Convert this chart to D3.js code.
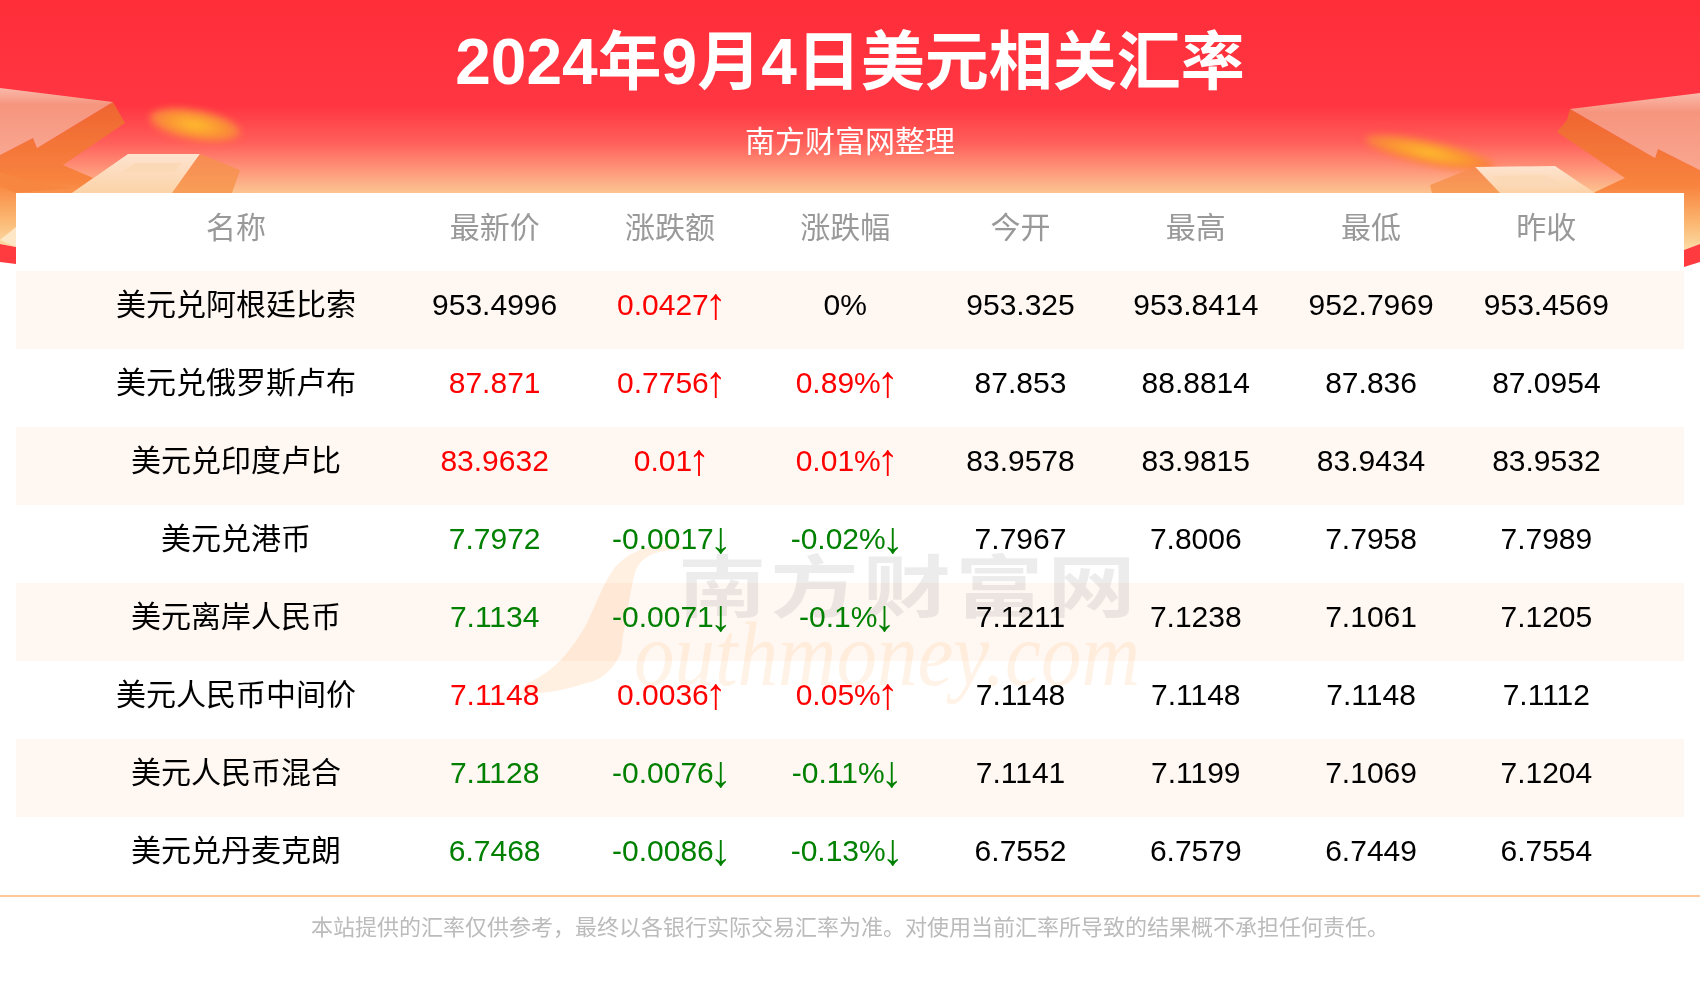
<!DOCTYPE html>
<html>
<head>
<meta charset="utf-8">
<script src="https://cdn.jsdelivr.net/npm/d3@7"></script>
<style>
html, body { margin: 0; padding: 0; background: #fff; }
svg { display: block; }
text { font-family: "Liberation Sans", "Noto Sans CJK SC", sans-serif; }
</style>
</head>
<body>
<div id="chart"></div>
<script>
var titleText = "2024年9月4日美元相关汇率";
var subtitleText = "南方财富网整理";
var footerText = "本站提供的汇率仅供参考，最终以各银行实际交易汇率为准。对使用当前汇率所导致的结果概不承担任何责任。";

var headers = ["名称", "最新价", "涨跌额", "涨跌幅", "今开", "最高", "最低", "昨收"];
var names = ["美元兑阿根廷比索", "美元兑俄罗斯卢布", "美元兑印度卢比", "美元兑港币", "美元离岸人民币", "美元人民币中间价", "美元人民币混合", "美元兑丹麦克朗"];
var latest = ["953.4996", "87.871", "83.9632", "7.7972", "7.1134", "7.1148", "7.1128", "6.7468"];
var latestTrend = [0, 1, 1, -1, -1, 1, -1, -1];
var change = ["0.0427", "0.7756", "0.01", "-0.0017", "-0.0071", "0.0036", "-0.0076", "-0.0086"];
var changePct = ["0%", "0.89%", "0.01%", "-0.02%", "-0.1%", "0.05%", "-0.11%", "-0.13%"];
var open = ["953.325", "87.853", "83.9578", "7.7967", "7.1211", "7.1148", "7.1141", "6.7552"];
var high = ["953.8414", "88.8814", "83.9815", "7.8006", "7.1238", "7.1148", "7.1199", "6.7579"];
var low = ["952.7969", "87.836", "83.9434", "7.7958", "7.1061", "7.1148", "7.1069", "6.7449"];
var prevClose = ["953.4569", "87.0954", "83.9532", "7.7989", "7.1205", "7.1112", "7.1204", "6.7554"];

var width = 1700, height = 1000;
var cardLeft = 16, cardRight = 1684, cardTop = 193, rowsTop = 271, rowsBottom = 895;
var red = "#ff0000", green = "#008000";

var svg = d3.select("#chart").append("svg").attr("width", width).attr("height", height);
var defs = svg.append("defs");

function gradient(id, stops, x2, y2) {
    var g = defs.append("linearGradient").attr("id", id)
        .attr("x1", 0).attr("y1", 0).attr("x2", x2).attr("y2", y2);
    stops.forEach(function(s) {
        g.append("stop").attr("offset", s[0]).attr("stop-color", s[1]);
    });
}
gradient("bg", [[0, "#ff2e39"], [0.55, "#ff3642"], [0.74, "#ff5f5a"], [0.89, "#fe9a7c"], [1, "#fcc490"]], 0, 1);
gradient("face", [[0, "#f9b9aa"], [0.25, "#f6957e"], [1, "#f9a690"]], 0, 1);
gradient("body", [[0, "#ee6430"], [0.55, "#f8843f"], [0.8, "#fbb56f"], [1, "#fbdca6"]], 0, 1);
gradient("paper", [[0, "#fde3cf"], [1, "#fcd3a8"]], 0, 1);
gradient("side", [[0, "#f78a52"], [1, "#f89e58"]], 0, 1);

var blur = defs.append("filter").attr("id", "soft").attr("x", "-30%").attr("y", "-60%").attr("width", "160%").attr("height", "220%");
blur.append("feGaussianBlur").attr("stdDeviation", 3.5);
var soft = defs.append("filter").attr("id", "edge");
soft.append("feGaussianBlur").attr("stdDeviation", 0.7);

var leaf = defs.append("radialGradient").attr("id", "leaf");
leaf.append("stop").attr("offset", 0).attr("stop-color", "#ffc02c");
leaf.append("stop").attr("offset", 0.65).attr("stop-color", "#fb9334");
leaf.append("stop").attr("offset", 1).attr("stop-color", "#fb7a45");

// header background
svg.append("rect").attr("width", width).attr("height", cardTop).attr("fill", "url(#bg)");

var leaves = svg.append("g").attr("filter", "url(#soft)").attr("fill", "url(#leaf)");
leaves.append("ellipse").attr("transform", "translate(195,125) rotate(10)").attr("rx", 46).attr("ry", 15);
leaves.append("ellipse").attr("transform", "translate(1430,153) rotate(12)").attr("rx", 66).attr("ry", 12);

var line = d3.line();
var art = svg.append("g").attr("filter", "url(#edge)");
function poly(points, fill) {
    art.append("path").attr("d", line(points) + "Z").attr("fill", fill);
}

// left side art
poly([[113, 102], [125, 123], [63, 165], [93, 178], [72, 193], [16, 193], [16, 247], [0, 244], [0, 155], [33, 138], [37, 148]], "url(#body)");
poly([[0, 88], [113, 102], [37, 148], [33, 138], [0, 155]], "url(#face)");
poly([[0, 172], [40, 184], [70, 188], [16, 193], [0, 186]], "#f7863f");
poly([[0, 240], [16, 227], [16, 247]], "#fde7c6");
poly([[0, 244], [16, 247], [16, 264], [0, 262]], "#ff3a40");
poly([[128, 154], [200, 154], [172, 193], [72, 193]], "url(#paper)");
poly([[200, 154], [240, 170], [232, 193], [172, 193]], "url(#side)");
poly([[135, 163], [182, 163], [174, 172], [122, 172]], "#fcd9b6");

// right side art
poly([[1570, 109], [1655, 158], [1658, 149], [1700, 170], [1700, 244], [1684, 250], [1684, 193], [1593, 193], [1625, 178], [1557, 132], [1567, 120]], "url(#body)");
poly([[1570, 109], [1700, 93], [1700, 170], [1658, 149], [1655, 158]], "url(#face)");
poly([[1684, 250], [1700, 244], [1700, 262], [1684, 267]], "#ff3a40");
poly([[1475, 167], [1555, 166], [1595, 193], [1500, 193]], "url(#paper)");
poly([[1475, 167], [1430, 185], [1432, 193], [1500, 193]], "url(#side)");
poly([[1492, 176], [1545, 175], [1570, 187], [1505, 187]], "#fcd9b6");

// card and row stripes
var r = 12;
svg.append("path")
    .attr("fill", "#fff")
    .attr("d", "M" + cardLeft + "," + rowsBottom + "V" + (cardTop + r) + "A" + r + "," + r + " 0 0 1 " + (cardLeft + r) + "," + cardTop +
        "H" + (cardRight - r) + "A" + r + "," + r + " 0 0 1 " + cardRight + "," + (cardTop + r) + "V" + rowsBottom + "Z");

var y = d3.scaleBand().domain(names).range([rowsTop, rowsBottom]);
var x = d3.scaleBand().domain(headers.slice(1)).range([407, 1634]);
var nameX = 236;

function colX(h) {
    return h === headers[0] ? nameX : x(h) + x.bandwidth() / 2;
}

svg.append("g").selectAll("rect")
    .data(names.filter(function(d, i) { return i % 2 === 0; }))
    .enter().append("rect")
    .attr("x", cardLeft)
    .attr("width", cardRight - cardLeft)
    .attr("y", function(d) { return y(d); })
    .attr("height", y.bandwidth())
    .attr("fill", "#fff7f2");

// watermark
var mark = svg.append("g");
mark.append("path")
    .attr("fill", "#ffb469").attr("opacity", 0.2)
    .attr("d", "M686,550C660,548 640,555 635,573C630,590 628,612 624,630C622,640 622,648 621,653C612,672 600,680 587,683C570,688 555,692 540,693L520,695C522,690 524,686 528,683C545,675 558,664 567,653C577,640 582,632 587,623C596,604 604,582 615,567C630,550 655,542 678,545Z");
mark.append("text")
    .attr("x", 634).attr("y", 685)
    .attr("textLength", 506).attr("lengthAdjust", "spacingAndGlyphs")
    .attr("font-size", 92).attr("font-style", "italic")
    .attr("fill", "#ffb469").attr("opacity", 0.16)
    .style("font-family", "'Liberation Serif', serif")
    .text("outhmoney.com");
mark.append("text")
    .attr("transform", "translate(678,612) scale(1.3,1)")
    .attr("font-size", 68).attr("font-weight", 700).attr("letter-spacing", 3)
    .attr("fill", "#000").attr("opacity", 0.07)
    .text("南方财富网");

// title
svg.append("text").attr("x", 850).attr("y", 84).attr("text-anchor", "middle")
    .attr("font-size", 64).attr("font-weight", 700).attr("fill", "#fff").text(titleText);
svg.append("text").attr("x", 850).attr("y", 152).attr("text-anchor", "middle")
    .attr("font-size", 30).attr("fill", "#fff").text(subtitleText);

// table header
svg.append("g").selectAll("text")
    .data(headers)
    .enter().append("text")
    .attr("x", colX)
    .attr("y", 238)
    .attr("text-anchor", "middle")
    .attr("font-size", 30)
    .attr("fill", "#999")
    .text(function(d) { return d; });

function trend(v) {
    var n = parseFloat(v);
    return n > 0 ? 1 : n < 0 ? -1 : 0;
}
function colour(t) {
    return t > 0 ? red : t < 0 ? green : "#000";
}
function arrow(t) {
    return t > 0 ? "↑" : t < 0 ? "↓" : "";
}

var columns = [
    { head: headers[0], text: names },
    { head: headers[1], text: latest, fill: latestTrend.map(colour) },
    { head: headers[2], text: change, fill: change.map(function(d) { return colour(trend(d)); }), arrows: change.map(function(d) { return arrow(trend(d)); }) },
    { head: headers[3], text: changePct, fill: changePct.map(function(d) { return colour(trend(d)); }), arrows: changePct.map(function(d) { return arrow(trend(d)); }) },
    { head: headers[4], text: open },
    { head: headers[5], text: high },
    { head: headers[6], text: low },
    { head: headers[7], text: prevClose }
];

var col = svg.append("g").selectAll("g")
    .data(columns)
    .enter().append("g");

var cells = col.selectAll("text")
    .data(function(c) {
        return c.text.map(function(t, i) {
            return { head: c.head, text: t, row: names[i], fill: c.fill ? c.fill[i] : "#000", arrow: c.arrows ? c.arrows[i] : "" };
        });
    })
    .enter().append("text")
    .attr("x", function(d) { return colX(d.head); })
    .attr("y", function(d) { return y(d.row) + y.bandwidth() / 2 + 4.5; })
    .attr("text-anchor", "middle")
    .attr("font-size", 30)
    .attr("fill", function(d) { return d.fill; })
    .text(function(d) { return d.text; });

// the arrows in the reference are taller than the digits' font gives
cells.filter(function(d) { return d.arrow; })
    .append("tspan")
    .attr("dx", -4)
    .attr("dy", 4)
    .attr("font-size", 44)
    .attr("letter-spacing", -4)
    .text(function(d) { return d.arrow; });

// footer
svg.append("rect").attr("x", 0).attr("y", rowsBottom).attr("width", width).attr("height", 2).attr("fill", "#fdc89a");
svg.append("text").attr("x", 850).attr("y", 935).attr("text-anchor", "middle")
    .attr("font-size", 22).attr("fill", "#bbb").text(footerText);
</script>
</body>
</html>
